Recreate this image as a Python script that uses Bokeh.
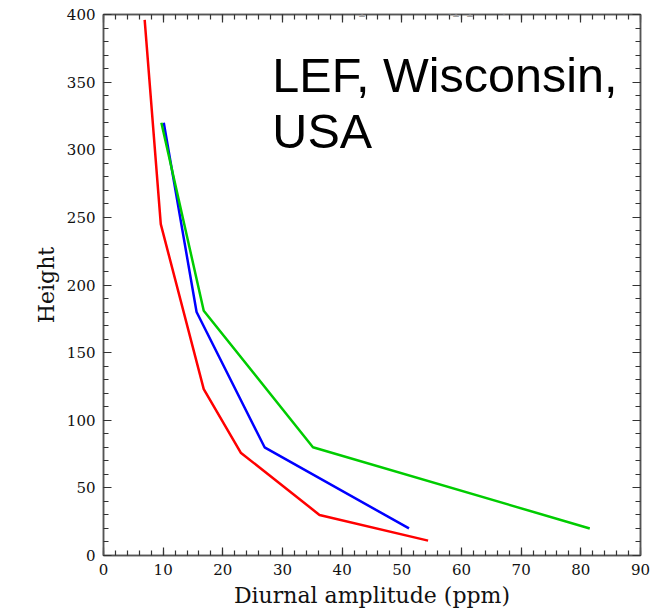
from bokeh.plotting import figure
from bokeh.models import LinearAxis, SingleIntervalTicker, Label, Range1d, CustomJSTickFormatter
from bokeh.embed import file_html
from bokeh.resources import INLINE

# Diurnal amplitude (ppm) against height for three profiles
red_amp = [6.9, 9.6, 16.8, 23.0, 36.2, 54.4]
red_height = [396, 245, 123, 76, 30, 11]

blue_amp = [10.1, 15.6, 27.0, 51.2]
blue_height = [320, 180, 80, 20]

green_amp = [9.7, 16.8, 35.1, 81.5]
green_height = [320, 181, 80, 20]

x_label = "Diurnal amplitude (ppm)"
y_label = "Height"
site_lines = ["LEF, Wisconsin,", "USA"]

AXIS_FONT = "DejaVu Serif"
AXIS_COLOR = "#555555"

p = figure(
    width=654, height=613,
    x_range=Range1d(0, 90), y_range=Range1d(0, 400),
    output_backend="svg", toolbar_location=None,
    x_axis_location=None, y_axis_location=None,
    min_border_left=103, min_border_right=14,
    min_border_top=14, min_border_bottom=58,
)
p.grid.visible = False
p.outline_line_color = AXIS_COLOR
p.outline_line_width = 1.5
p.background_fill_color = "white"
p.border_fill_color = "white"


def make_axis(ticker_interval, label=None, show_labels=True):
    ax = LinearAxis(
        ticker=SingleIntervalTicker(interval=ticker_interval, num_minor_ticks=5),
        axis_line_color=AXIS_COLOR, axis_line_width=1.5,
        major_tick_line_color="#333333", minor_tick_line_color="#333333",
        major_tick_line_width=1.2, minor_tick_line_width=1.2,
        major_tick_in=8, major_tick_out=0,
        minor_tick_in=5, minor_tick_out=0,
    )
    if show_labels:
        ax.major_label_text_font = AXIS_FONT
        ax.major_label_text_font_size = "15px"
        ax.major_label_text_color = "#111111"
        ax.major_label_standoff = 8
    else:
        # tick marks only on the opposite sides of the frame
        ax.formatter = CustomJSTickFormatter(code="return '';")
        ax.major_label_standoff = 0
    if label:
        ax.axis_label = label
        ax.axis_label_text_font = AXIS_FONT
        ax.axis_label_text_font_size = "22px"
        ax.axis_label_text_font_style = "normal"
        ax.axis_label_text_color = "#111111"
        ax.axis_label_standoff = 5
    return ax


p.add_layout(make_axis(10, x_label), "below")
p.add_layout(make_axis(50, y_label), "left")
p.add_layout(make_axis(10, show_labels=False), "above")
p.add_layout(make_axis(50, show_labels=False), "right")

p.line(red_amp, red_height, line_color="#ff0000", line_width=2.5)
p.line(blue_amp, blue_height, line_color="#0000ff", line_width=2.5)
p.line(green_amp, green_height, line_color="#00cc00", line_width=2.5)

# Repeated axis title sitting above the frame, mostly off the canvas
p.add_layout(Label(
    x=45, y=400, text=x_label, text_align="center", text_baseline="alphabetic",
    y_offset=10, text_font=AXIS_FONT, text_font_size="22px", text_color="#a0a0a0",
))

# Site name
for text, y in zip(site_lines, [355.5, 313.5]):
    p.add_layout(Label(
        x=28.3, y=y, text=text, text_align="left", text_baseline="alphabetic",
        text_font="Liberation Sans", text_font_size="48.5px", text_color="black",
    ))

open("out.html", "w").write(file_html(p, INLINE))
